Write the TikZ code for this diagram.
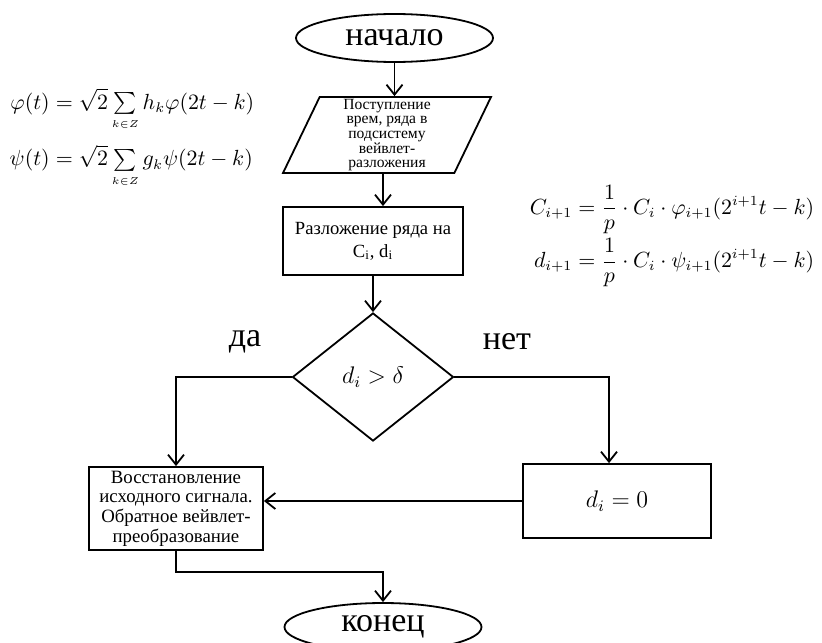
\documentclass[tikz,border=0pt]{standalone}
\usepackage{amsmath}
\usepackage{fontspec}
\setmainfont{Liberation Serif}
\usetikzlibrary{positioning, arrows.meta, shapes.geometric}

\begin{document}
\begin{tikzpicture}[x=0.5pt,y=-0.5pt,line width=0.9pt,>={Straight Barb[length=5pt,width=8pt]},
  term/.style={draw,ellipse,inner sep=0pt,minimum width=98.5pt,minimum height=24pt,font=\fontsize{17}{19}\selectfont},
  io/.style={draw,trapezium,trapezium left angle=63,trapezium right angle=117,trapezium stretches body,inner sep=0pt,minimum width=104pt,minimum height=38pt,align=center,font=\fontsize{7.8}{7.3}\selectfont},
  b/.style={draw,rectangle,inner sep=0pt,align=center},
  dec/.style={draw,diamond,inner sep=0pt,minimum width=80.5pt,minimum height=64pt,font=\fontsize{12}{14}\selectfont},
  lbl/.style={font=\fontsize{17}{19}\selectfont},
  eq/.style={font=\fontsize{10.6}{13}\selectfont}]
  \useasboundingbox (0,0) rectangle (822,642);
  \clip (0,0) rectangle (822,642);
  \node[term](st) at (394.5,38){начало};
  \node[io](inp) at (387,135){Поступление\\ врем, ряда в\\ подсистему\\ вейвлет-\\ разложения};
  \node[b,minimum width=90pt,minimum height=34pt,font=\fontsize{9.3}{11.5}\selectfont](dcp) at (373,241){Разложение ряда на\\ C\textsubscript{i}, d\textsubscript{i}};
  \node[dec](cnd) at (373,377){$d_i > \delta$};
  \node[b,minimum width=87pt,minimum height=41.5pt,font=\fontsize{9.4}{9.8}\selectfont](rst) at (176,508.5){Восстановление\\ исходного сигнала.\\ Обратное вейвлет-\\ преобразование};
  \node[b,minimum width=94pt,minimum height=37pt,font=\fontsize{12}{14}\selectfont](zer) at (617,501){$d_i = 0$};
  \node[term](en) at (383,627){конец};
  \node[lbl](da) at (245,342){да};
  \node[lbl](net) at (507,342){нет};
  % formulas
  \node[eq](phi) at (132,138){$\begin{aligned}
    \varphi(t)&=\sqrt{2}\textstyle\sum\limits_{\scriptscriptstyle k\in Z}h_k\varphi(2t-k)\\[3pt]
    \psi(t)&=\sqrt{2}\textstyle\sum\limits_{\scriptscriptstyle k\in Z}g_k\psi(2t-k)
  \end{aligned}$};
  \node[eq](cd) at (672,236){$\begin{aligned}
    C_{i+1}&=\frac{1}{p}\cdot C_i\cdot\varphi_{i+1}(2^{i+1}t-k)\\[-1.5pt]
    d_{i+1}&=\frac{1}{p}\cdot C_i\cdot\psi_{i+1}(2^{i+1}t-k)
  \end{aligned}$};
  % connectors
  \draw[->](st.south)--(st.south |- inp.north);
  \draw[->]([xshift=-2pt]inp.south)--([xshift=-2pt]inp.south |- dcp.north);
  \draw[->](dcp.south)--(cnd.north);
  \draw[->](cnd.west)-|(rst.north);
  \draw[->](cnd.east)-|([xshift=-4pt]zer.north);
  \draw[->](zer.west)--(zer.west -| rst.east);
  \draw[->](rst.south)--++(0,21)-|(en.north);
\end{tikzpicture}
\end{document}
